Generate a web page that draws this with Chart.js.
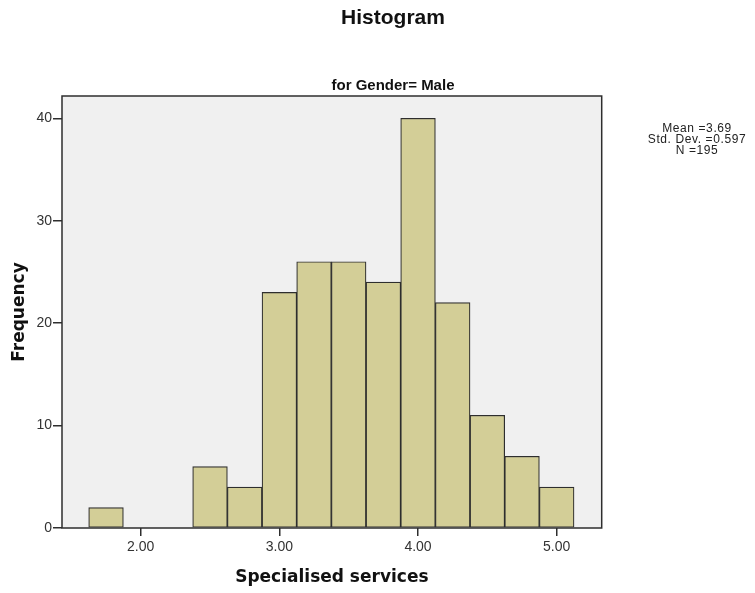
<!DOCTYPE html>
<html>
<head>
<meta charset="utf-8">
<script src="https://cdn.jsdelivr.net/npm/chart.js@4/dist/chart.umd.min.js"></script>
<style>
  html, body { margin: 0; padding: 0; background: #ffffff; }
  #wrap { width: 755px; height: 593px; }
</style>
</head>
<body>
<div id="wrap"><canvas id="hist" width="755" height="593"></canvas></div>
<script>
// Histogram bins (bin centres, width 0.25) and their counts
const binCentres = [1.75, 2.00, 2.25, 2.50, 2.75, 3.00, 3.25, 3.50, 3.75, 4.00, 4.25, 4.50, 4.75, 5.00];
const frequencies = [2, 0, 0, 6, 4, 23, 26, 26, 24, 40, 22, 11, 7, 4];

// Axis ticks
const xTickValues = [2, 3, 4, 5];
const xTickLabels = ['2.00', '3.00', '4.00', '5.00'];
const yTickValues = [0, 10, 20, 30, 40];

// Text
const chartTitle = 'Histogram';
const panelTitle = 'for Gender= Male';
const statsLines = ['Mean =3.69', 'Std. Dev. =0.597', 'N =195'];
const xTitle = 'Specialised services';
const yTitle = 'Frequency';

const INK = '#2e2e2e';

// Grey plot background and the dark frame around the plot area
const frame = {
  id: 'frame',
  beforeDatasetsDraw(chart) {
    const { ctx, chartArea: a } = chart;
    ctx.save();
    ctx.fillStyle = '#f0f0f0';
    ctx.fillRect(a.left, a.top, a.right - a.left, a.bottom - a.top);
    ctx.restore();
  },
  afterDatasetsDraw(chart) {
    const { ctx, chartArea: a } = chart;
    ctx.save();
    ctx.strokeStyle = INK;
    ctx.lineWidth = 1.5;
    ctx.strokeRect(a.left, a.top, a.right - a.left, a.bottom - a.top);
    ctx.restore();
  }
};

// Main title, panel title and summary statistics
const headings = {
  id: 'headings',
  afterDraw(chart) {
    const { ctx } = chart;
    ctx.save();
    ctx.textAlign = 'center';
    ctx.textBaseline = 'middle';
    ctx.fillStyle = '#111111';
    ctx.font = 'bold 21px "Liberation Sans", Arial, sans-serif';
    ctx.fillText(chartTitle, 393, 18);
    ctx.font = 'bold 15px "Liberation Sans", Arial, sans-serif';
    ctx.fillText(panelTitle, 393, 86);
    ctx.fillStyle = '#222222';
    ctx.font = '12px "Liberation Sans", Arial, sans-serif';
    if ('letterSpacing' in ctx) ctx.letterSpacing = '0.6px';
    statsLines.forEach((line, i) => ctx.fillText(line, 697, 129 + i * 10.6));
    ctx.restore();
  }
};

new Chart(document.getElementById('hist'), {
  type: 'bar',
  data: {
    datasets: [{
      data: binCentres.map((x, i) => ({ x, y: frequencies[i] })),
      backgroundColor: '#d3ce97',
      borderColor: INK,
      borderWidth: 1.2,
      borderSkipped: false,
      barPercentage: 1,
      categoryPercentage: 1
    }]
  },
  options: {
    responsive: false,
    animation: false,
    layout: { padding: { left: 0, right: 153.3, top: 96, bottom: 0 } },
    plugins: {
      legend: { display: false },
      tooltip: { enabled: false },
      title: { display: false }
    },
    scales: {
      x: {
        type: 'linear',
        offset: false,
        min: 1.4325,
        max: 5.3245,
        afterBuildTicks(scale) { scale.ticks = xTickValues.map(v => ({ value: v })); },
        afterFit(scale) { scale.height = 65; },
        grid: { offset: false, drawOnChartArea: false, drawTicks: true, tickLength: 8, color: INK, lineWidth: 1.5 },
        border: { display: false },
        ticks: {
          padding: 3,
          color: '#333333',
          maxRotation: 0,
          autoSkip: false,
          font: { family: '"Liberation Sans", Arial, sans-serif', size: 14 },
          callback(value) {
            const i = xTickValues.indexOf(value);
            return i >= 0 ? xTickLabels[i] : '';
          }
        },
        title: {
          display: true,
          text: xTitle,
          color: '#111111',
          padding: { top: 0, bottom: 5 },
          font: { family: '"DejaVu Sans", sans-serif', size: 17, weight: 'bold' }
        }
      },
      y: {
        type: 'linear',
        min: 0,
        max: 42.18,
        afterBuildTicks(scale) { scale.ticks = yTickValues.map(v => ({ value: v })); },
        afterFit(scale) { scale.width = 62; },
        grid: { drawOnChartArea: false, drawTicks: true, tickLength: 9, color: INK, lineWidth: 1.5 },
        border: { display: false },
        ticks: {
          padding: 1,
          color: '#333333',
          font: { family: '"Liberation Sans", Arial, sans-serif', size: 14 }
        },
        title: {
          display: true,
          text: yTitle,
          color: '#111111',
          padding: { top: 9, bottom: 0 },
          font: { family: '"DejaVu Sans", sans-serif', size: 17, weight: 'bold' }
        }
      }
    }
  },
  plugins: [frame, headings]
});
</script>
</body>
</html>
